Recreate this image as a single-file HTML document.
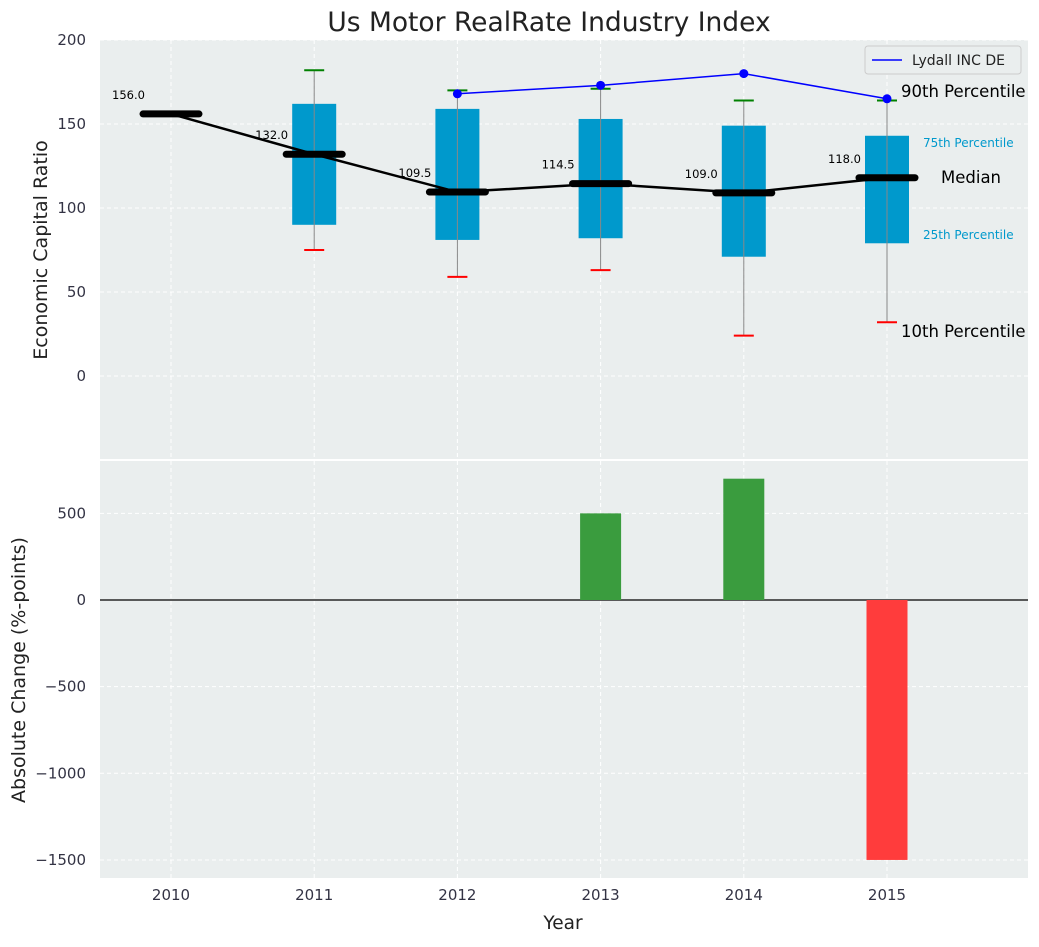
<!DOCTYPE html>
<html><head><meta charset="utf-8"><style>
body{margin:0;background:#fff;}
svg{font-family:"DejaVu Sans","Liberation Sans",sans-serif;}
</style></head><body>
<svg id="c" width="1039" height="942" xmlns="http://www.w3.org/2000/svg"></svg>
<script>
const years=[2010,2011,2012,2013,2014,2015];
const medians=[156,132,109.5,114.5,109,118];
const q1=[null,90,81,82,71,79];
const q3=[null,162,159,153,149,143];
const p10=[null,75,59,63,24,32];
const p90=[null,182,170,171,164,164];
const compYears=[2012,2013,2014,2015];
const compVals=[168,173,180,165];
const changeYears=[2013,2014,2015];
const changeVals=[500,700,-1500];
const yTicks=[0,50,100,150,200];
const bTicks=[-1500,-1000,-500,0,500];

const S=document.getElementById('c');const NS='http://www.w3.org/2000/svg';
function el(t,a,p){const e=document.createElementNS(NS,t);for(const k in a)e.setAttribute(k,a[k]);(p||S).appendChild(e);return e;}
const X0=100,X1=1028;
const x=v=>171+(v-2010)*143.2;
const yT=v=>376-v*1.68;
const yB=v=>600-v*0.1733;
let r=el('rect',{x:X0,y:40,width:X1-X0,height:419,fill:'#eaeeee'});

r=el('rect',{x:X0,y:461,width:X1-X0,height:417,fill:'#eaeeee'});

years.forEach(yr=>{[[40,459],[461,878]].forEach(([a,b])=>el('line',{x1:x(yr),x2:x(yr),y1:a,y2:b,stroke:'#fff','stroke-dasharray':'4,3','stroke-width':1}));});
yTicks.forEach(v=>{el('line',{x1:X0,x2:X1,y1:yT(v),y2:yT(v),stroke:'#fff','stroke-dasharray':'4,3'});
 const t=el('text',{x:86,y:yT(v)+5,'text-anchor':'end','font-size':15,fill:'#334'});t.textContent=v;
 });
bTicks.forEach(v=>{el('line',{x1:X0,x2:X1,y1:yB(v),y2:yB(v),stroke:'#fff','stroke-dasharray':'4,3'});
 const t=el('text',{x:86,y:yB(v)+5,'text-anchor':'end','font-size':15,fill:'#334'});t.textContent=String(v).replace('-','\u2212');
 });
years.forEach(yr=>{const t=el('text',{x:x(yr),y:900,'text-anchor':'middle','font-size':15,fill:'#334'});t.textContent=yr;
 });
years.forEach((yr,i)=>{if(q1[i]==null)return;const cx=x(yr);
 const g=el('g',{});
 el('rect',{x:cx-22,y:yT(q3[i]),width:44,height:yT(q1[i])-yT(q3[i]),fill:'#0099cc'},g);
 el('line',{x1:cx,x2:cx,y1:yT(p90[i]),y2:yT(p10[i]),stroke:'#888','stroke-width':1},g);
 el('line',{x1:cx-10,x2:cx+10,y1:yT(p90[i]),y2:yT(p90[i]),stroke:'green','stroke-width':2},g);
 el('line',{x1:cx-10,x2:cx+10,y1:yT(p10[i]),y2:yT(p10[i]),stroke:'red','stroke-width':2},g);});
let pl=el('polyline',{points:years.map((yr,i)=>x(yr)+','+yT(medians[i])).join(' '),fill:'none',stroke:'#000','stroke-width':2.5});

years.forEach((yr,i)=>{const m=el('line',{x1:x(yr)-28,x2:x(yr)+28,y1:yT(medians[i]),y2:yT(medians[i]),stroke:'#000','stroke-width':7,'stroke-linecap':'round'});
 
 const t=el('text',{x:x(yr)-59,y:yT(medians[i])-15,'font-size':11.5,fill:'#000'});t.textContent=medians[i].toFixed(1);
 });
pl=el('polyline',{points:compYears.map((yr,i)=>x(yr)+','+yT(compVals[i])).join(' '),fill:'none',stroke:'blue','stroke-width':1.5});

compYears.forEach((yr,i)=>{const c=el('circle',{cx:x(yr),cy:yT(compVals[i]),r:4.5,fill:'blue'});
 });
function txt(s,xx,yy,fs,fill,name){const t=el('text',{x:xx,y:yy,'font-size':fs,fill:fill});t.textContent=s;return t;}
txt('90th Percentile',901,97,16.5,'#000','p90-annotation');
txt('75th Percentile',923,147,12,'#0099cc','p75-annotation');
txt('Median',941,183,16.5,'#000','median-annotation');
txt('25th Percentile',923,239,12,'#0099cc','p25-annotation');
txt('10th Percentile',901,337,16.5,'#000','p10-annotation');
const lg=el('g',{});
el('rect',{x:865,y:46,width:156,height:28,rx:3,fill:'#eaeeee',stroke:'#ccc'},lg);
el('line',{x1:872,x2:902,y1:60,y2:60,stroke:'blue','stroke-width':1.5},lg);
const lt=el('text',{x:912,y:65,'font-size':14,fill:'#222'},lg);lt.textContent='Lydall INC DE';
el('line',{x1:X0,x2:X1,y1:yB(0),y2:yB(0),stroke:'#000','stroke-width':1.2});
changeYears.forEach((yr,i)=>{const v=changeVals[i];const b=el('rect',{x:x(yr)-20.5,y:Math.min(yB(v),yB(0)),width:41,height:Math.abs(yB(v)-yB(0)),fill:v>=0?'#3a9c3e':'#ff3c3c'});
 });
txt('Us Motor RealRate Industry Index',549,31,26.5,'#222','chart-title').setAttribute('text-anchor','middle');
txt('Year',563,929,18.5,'#222','x-axis-title').setAttribute('text-anchor','middle');
let t=el('text',{x:47,y:250,'font-size':19,fill:'#222','text-anchor':'middle',transform:'rotate(-90 47 250)'});t.textContent='Economic Capital Ratio';
t=el('text',{x:25,y:670,'font-size':19,fill:'#222','text-anchor':'middle',transform:'rotate(-90 25 670)'});t.textContent='Absolute Change (%-points)';
</script>
</body></html>
